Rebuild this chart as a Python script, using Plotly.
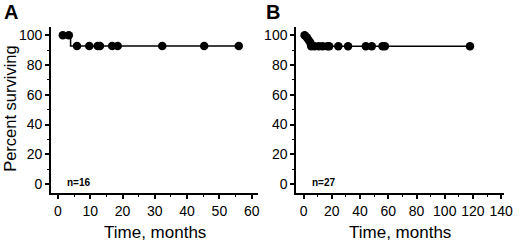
import plotly.graph_objects as go

# ---- data ----
A_curve_t = [1.5, 3.9, 56.0]
A_curve_s = [100, 92.9, 92.9]
A_censor_t = [1.5, 3.35, 5.9, 9.7, 12.3, 13.0, 16.8, 18.5, 32.3, 45.3, 56.0]
A_censor_s = [100, 100, 92.9, 92.9, 92.9, 92.9, 92.9, 92.9, 92.9, 92.9, 92.9]

B_curve_t = [0.7, 2.3, 3.5, 4.7, 5.4, 117.9]
B_curve_s = [100, 98.5, 96.8, 95.1, 92.6, 92.6]
B_censor_t = [0.7, 2.3, 3.5, 4.7, 5.4, 7.7, 10.7, 13.4, 16.9, 18.1, 24.6, 31.5, 44.1, 48.3, 55.9, 57.6, 117.9]
B_censor_s = [100, 98.5, 96.8, 95.1, 92.6, 92.6, 92.6, 92.6, 92.6, 92.6, 92.6, 92.6, 92.6, 92.6, 92.6, 92.6, 92.6]

y_ticks = [0, 20, 40, 60, 80, 100]
A_x_ticks = [0, 10, 20, 30, 40, 50, 60]
B_x_ticks = [0, 20, 40, 60, 80, 100, 120, 140]
n_labels = ["n=16", "n=27"]
panel_labels = ["A", "B"]

FONT = "Liberation Sans, Arial, Helvetica, sans-serif"
W, H = 520, 242

fig = go.Figure()
fig.add_trace(go.Scatter(x=A_curve_t, y=A_curve_s, mode="lines", line=dict(color="black", width=1.5, shape="hv"),
                         xaxis="x", yaxis="y", showlegend=False, hoverinfo="skip"))
fig.add_trace(go.Scatter(x=A_censor_t, y=A_censor_s, mode="markers", marker=dict(color="black", size=8.5),
                         xaxis="x", yaxis="y", showlegend=False))
fig.add_trace(go.Scatter(x=B_curve_t, y=B_curve_s, mode="lines", line=dict(color="black", width=1.5),
                         xaxis="x2", yaxis="y2", showlegend=False, hoverinfo="skip"))
fig.add_trace(go.Scatter(x=B_censor_t, y=B_censor_s, mode="markers", marker=dict(color="black", size=8.5),
                         xaxis="x2", yaxis="y2", showlegend=False))

def px_x(p):
    return p / W

def px_y(p):
    return (H - p) / H

y_dom = [px_y(192.7), px_y(26.7)]
common_axis = dict(showline=True, linecolor="black", linewidth=2, ticks="outside", ticklen=4, tickwidth=1.5,
                   tickcolor="black", showgrid=False, zeroline=False, ticklabeloverflow="allow",
                   tickfont=dict(family=FONT, size=14, color="black"))
minor = dict(ticks="outside", ticklen=2, tickcolor="black", tickwidth=1)

fig.update_layout(
    width=W, height=H, margin=dict(l=0, r=0, t=0, b=0),
    paper_bgcolor="white", plot_bgcolor="white",
    xaxis=dict(domain=[px_x(52), px_x(263)], range=[-2.13, 62.1], anchor="y",
               tickvals=A_x_ticks, minor=dict(dtick=5, **minor), **common_axis),
    yaxis=dict(domain=y_dom, range=[-5.8, 105.8], anchor="x", tickvals=y_ticks,
               minor=dict(dtick=10, **minor), **common_axis),
    xaxis2=dict(domain=[px_x(301.5), px_x(513.3)], range=[-5.2, 142.3], anchor="y2",
                tickvals=B_x_ticks, minor=dict(dtick=10, **minor), **common_axis),
    yaxis2=dict(domain=y_dom, range=[-5.8, 105.8], anchor="x2", tickvals=y_ticks,
                minor=dict(dtick=10, **minor), **common_axis),
)

ann = []
# panel letters
for lab, xp in zip(panel_labels, [11.5, 277.5]):
    ann.append(dict(text=f"<b>{lab}</b>", x=px_x(xp), y=px_y(11.5), xref="paper", yref="paper",
                    showarrow=False, font=dict(family=FONT, size=20, color="black"),
                    xanchor="center", yanchor="middle"))
# n labels
ann.append(dict(text=f"<b>{n_labels[0]}</b>", x=6.4, y=1, xref="x", yref="y", showarrow=False,
                font=dict(family=FONT, size=10, color="black"), xanchor="center", yanchor="middle"))
ann.append(dict(text=f"<b>{n_labels[1]}</b>", x=14.6, y=1, xref="x2", yref="y2", showarrow=False,
                font=dict(family=FONT, size=10, color="black"), xanchor="center", yanchor="middle"))
# axis titles
for xc in [(52 + 263) / 2, (301.5 + 513.3) / 2]:
    ann.append(dict(text="Time, months", x=px_x(xc), y=px_y(232), xref="paper", yref="paper", showarrow=False,
                    font=dict(family=FONT, size=17, color="black"), xanchor="center", yanchor="middle"))
ann.append(dict(text="Percent surviving", x=px_x(10), y=px_y(108), xref="paper", yref="paper", showarrow=False,
                textangle=-90, font=dict(family=FONT, size=16.5, color="black"), xanchor="center", yanchor="middle"))
fig.update_layout(annotations=ann)

fig.write_html("out.html", config={"displayModeBar": False},
               post_script="document.body.style.margin='0';document.body.style.padding='0';")
